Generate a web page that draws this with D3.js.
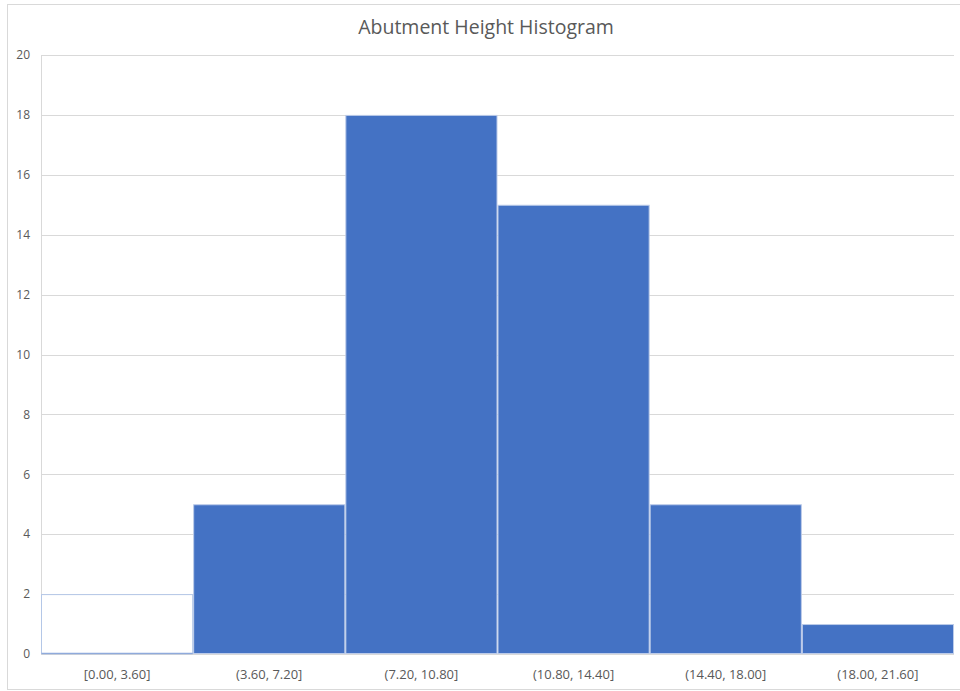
<!DOCTYPE html>
<html>
<head>
<meta charset="utf-8">
<script src="https://cdn.jsdelivr.net/npm/d3@7"></script>
<style>
  html, body { margin: 0; padding: 0; background: #fff; }
  svg { display: block; }
</style>
</head>
<body>
<svg id="chart" width="960" height="691"></svg>
<script>
// Bin labels and counts for the abutment height histogram
const bins = ["[0.00, 3.60]", "(3.60, 7.20]", "(7.20, 10.80]", "(10.80, 14.40]", "(14.40, 18.00]", "(18.00, 21.60]"];
const counts = [2, 5, 18, 15, 5, 1];
const yTicks = [0, 2, 4, 6, 8, 10, 12, 14, 16, 18, 20];
const title = "Abutment Height Histogram";

const svg = d3.select("#chart");
const W = 960, H = 691;
const plot = { left: 41, right: 954, top: 55, bottom: 654 };
const font = "'Open Sans', 'Noto Sans', sans-serif";

// Outer chart frame
svg.append("rect")
  .attr("x", 7.5).attr("y", 4.5)
  .attr("width", W + 10).attr("height", 685)
  .attr("fill", "#fff").attr("stroke", "#d9d9d9").attr("stroke-width", 1);

const x = d3.scaleBand().domain(bins).range([plot.left, plot.right]).padding(0);
const y = d3.scaleLinear().domain([0, 20]).range([plot.bottom, plot.top]);

// Horizontal gridlines
svg.append("g")
  .selectAll("line").data(yTicks).join("line")
  .attr("x1", plot.left).attr("x2", plot.right)
  .attr("y1", d => Math.round(y(d)) + 0.5).attr("y2", d => Math.round(y(d)) + 0.5)
  .attr("stroke", "#d9d9d9").attr("stroke-width", 1);

// Left plot edge
svg.append("line")
  .attr("x1", plot.left + 0.5).attr("x2", plot.left + 0.5)
  .attr("y1", plot.top).attr("y2", plot.bottom)
  .attr("stroke", "#d9d9d9");

// Y tick labels
svg.append("g")
  .selectAll("text").data(yTicks).join("text")
  .attr("x", 30).attr("y", d => y(d))
  .attr("dy", "0.35em")
  .attr("text-anchor", "end")
  .attr("font-family", font).attr("font-size", 12)
  .attr("fill", "#595959")
  .text(d => d);

// Bars: first bin is drawn as an outline only
const data = bins.map((b, i) => ({ bin: b, count: counts[i], i }));
svg.append("g")
  .selectAll("rect").data(data).join("rect")
  .attr("x", d => x(d.bin) + 0.5)
  .attr("y", d => y(d.count) + 0.5)
  .attr("width", x.bandwidth() - 1)
  .attr("height", d => plot.bottom - y(d.count) - 1)
  .attr("fill", d => d.i === 0 ? "#ffffff" : "#4472c4")
  .attr("stroke", d => d.i === 0 ? "#b4c7e7" : "#bccbe9")
  .attr("stroke-width", 1);

// Stronger baseline under the outlined bin
svg.append("line")
  .attr("x1", x(bins[0]) + 0.5).attr("x2", x(bins[0]) + x.bandwidth() - 0.5)
  .attr("y1", plot.bottom - 0.5).attr("y2", plot.bottom - 0.5)
  .attr("stroke", "#8faadc").attr("stroke-width", 1.5);

// X tick labels
svg.append("g")
  .selectAll("text").data(bins).join("text")
  .attr("x", d => x(d) + x.bandwidth() / 2)
  .attr("y", 674).attr("dy", "0.35em")
  .attr("text-anchor", "middle")
  .attr("font-family", font).attr("font-size", 13)
  .attr("fill", "#595959")
  .text(d => d);

// Title
svg.append("text")
  .attr("x", 486).attr("y", 27).attr("dy", "0.35em")
  .attr("text-anchor", "middle")
  .attr("font-family", font).attr("font-size", 19.5)
  .attr("fill", "#595959")
  .text(title);
</script>
</body>
</html>
